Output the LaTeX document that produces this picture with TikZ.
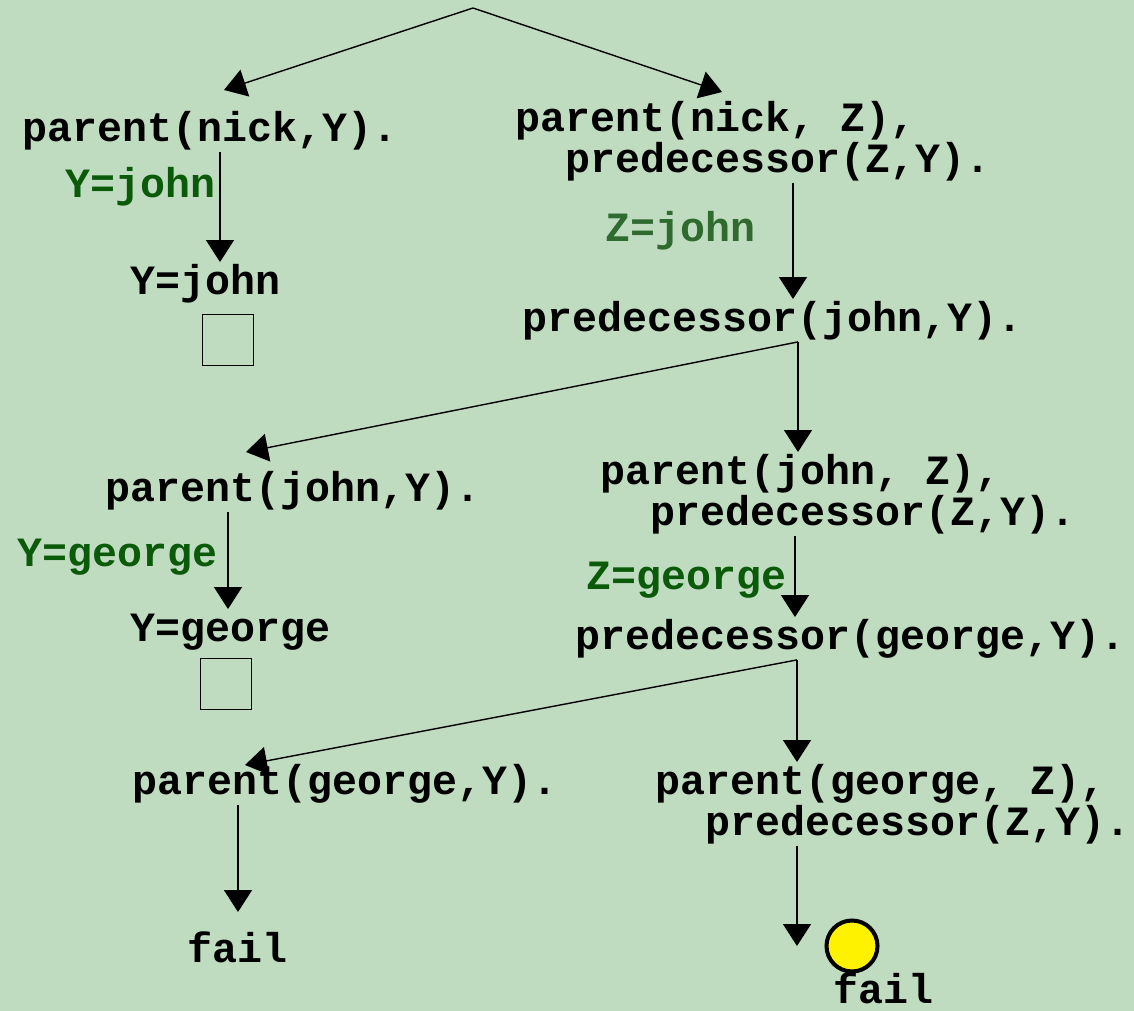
\documentclass[tikz,border=0pt]{standalone}
\usepackage{fontspec}
\setmonofont{Liberation Mono}
\usepackage{tikz}
\usetikzlibrary{arrows.meta}
\definecolor{paper}{HTML}{C0DCC0}
\definecolor{bind}{HTML}{0A5A0A}
\definecolor{bindlight}{HTML}{2F6B2F}

\begin{document}
\begin{tikzpicture}[x=0.02cm, y=-0.02cm,
  goal/.style={anchor=base west, inner sep=0pt, text height=18pt, text depth=6pt,
               font=\ttfamily\bfseries\fontsize{23.7}{28}\selectfont},
  subst/.style={goal, text=bind},
  arr/.style={line width=0.8pt, -{Triangle[length=0.44cm, width=0.56cm]}},
  success/.style={draw, line width=0.9pt, minimum size=1.02cm, inner sep=0pt},
  failball/.style={circle, draw, fill=yellow, line width=2.3pt, minimum size=1.02cm, inner sep=0pt},
]

\fill[paper] (0,0) rectangle (1134,1011);
\useasboundingbox (0,0) rectangle (1134,1011);

\coordinate (root) at (473,8);

% first level
\node[goal] (g1) at (22,141) {parent(nick,Y).};
\node[goal] (g2a) at (515,131) {parent(nick, Z),};
\node[goal] (g2b) at (565,172) {predecessor(Z,Y).};
\node[subst] (l1) at (65,197) {Y=john};
\node[goal] (s1) at (130,294) {Y=john};
\node[success] (box1) at (228,340) {};
\node[subst, text=bindlight] (l2) at (605,241) {Z=john};
\node[goal] (g3) at (522,331) {predecessor(john,Y).};

% second level
\node[goal] (g4) at (105,501) {parent(john,Y).};
\node[goal] (g5a) at (600,484) {parent(john, Z),};
\node[goal] (g5b) at (650,525) {predecessor(Z,Y).};
\node[subst] (l3) at (17,566) {Y=george};
\node[goal] (s2) at (130,641) {Y=george};
\node[success] (box2) at (226,684) {};
\node[subst] (l4) at (586,589) {Z=george};
\node[goal] (g6) at (575,649) {predecessor(george,Y).};

% third level
\node[goal] (g7) at (132,794) {parent(george,Y).};
\node[goal] (g8a) at (655,794) {parent(george, Z),};
\node[goal] (g8b) at (705,835) {predecessor(Z,Y).};
\node[goal] (fail1) at (187,962) {fail};
\node[failball] (ball) at (852,946) {};
\node[goal] (fail2) at (833,1003) {fail};

% arrow columns and tips
\coordinate (c1) at (220,0);
\coordinate (c2) at (793,0);
\coordinate (c3) at (798,0);
\coordinate (c4) at (228,0);
\coordinate (c5) at (795,0);
\coordinate (c6) at (797,0);
\coordinate (c7) at (238,0);
\coordinate (c8) at (797,0);
\coordinate (tipL1) at (224,90);
\coordinate (tipR1) at (722,92);
\coordinate (tipL2) at (246,452);
\coordinate (tipL3) at (245,765);

\draw[arr] (root) -- (tipL1);
\draw[arr] (root) -- (tipR1);
\draw[arr] (g1.south -| c1) -- (s1.north -| c1);
\draw[arr] (g2b.south -| c2) -- (g3.north -| c2);

\draw[arr] (g3.south -| c3) -- (tipL2);
\draw[arr] (g3.south -| c3) -- (g5a.north -| c3);
\draw[arr] (g4.south -| c4) -- (s2.north -| c4);
\draw[arr] (g5b.south -| c5) -- (g6.north -| c5);

\draw[arr] (g6.south -| c6) -- (tipL3);
\draw[arr] (g6.south -| c6) -- (g8a.north -| c6);
\draw[arr, shorten >=0.36cm] (g7.south -| c7) -- (fail1.north -| c7);
\draw[arr] (g8b.south -| c8) -- (ball.center -| c8);

\end{tikzpicture}
\end{document}
